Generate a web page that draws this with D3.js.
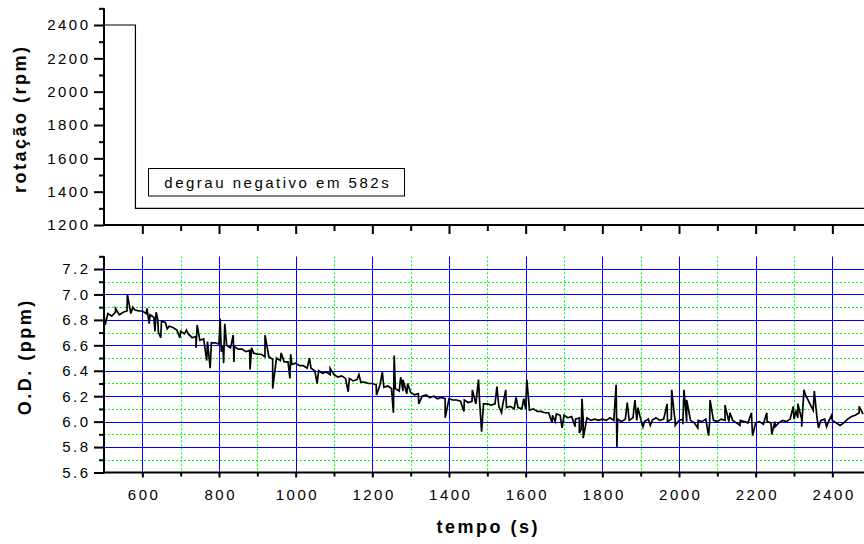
<!DOCTYPE html>
<html>
<head>
<meta charset="utf-8">
<script src="https://cdn.jsdelivr.net/npm/d3@7"></script>
<style>
  body { margin: 0; background: #fff; }
  svg { display: block; }
</style>
</head>
<body>
<svg id="chart" width="864" height="544"></svg>
<script>
// ---- rotation step (rpm) ----
const rotTempo = [500, 582, 582, 2500];
const rotValues = [2400, 2400, 1300, 1300];
const stepLabel = "degrau negativo em 582s";

// ---- dissolved oxygen (ppm), one reading every 10 s starting at 500 s ----
const odStart = 500;
const odStep = 10;
const odBase = [
  6.84, 6.85, 6.83, 6.86, 6.84, 6.86, 6.87, 6.85, 6.88, 6.87,   // 500
  6.87, 6.85, 6.84, 6.82, 6.81, 6.79, 6.78, 6.75, 6.74, 6.72,   // 600
  6.71, 6.69, 6.69, 6.66, 6.67, 6.64, 6.65, 6.63, 6.62, 6.62,   // 700
  6.61, 6.60, 6.60, 6.58, 6.59, 6.57, 6.57, 6.55, 6.56, 6.54,   // 800
  6.53, 6.53, 6.51, 6.51, 6.49, 6.50, 6.48, 6.47, 6.47, 6.45,   // 900
  6.46, 6.44, 6.44, 6.42, 6.42, 6.40, 6.40, 6.38, 6.39, 6.37,   // 1000
  6.37, 6.35, 6.36, 6.34, 6.34, 6.32, 6.33, 6.31, 6.31, 6.30,   // 1100
  6.30, 6.29, 6.29, 6.27, 6.28, 6.26, 6.26, 6.24, 6.24, 6.22,   // 1200
  6.23, 6.21, 6.22, 6.20, 6.21, 6.19, 6.20, 6.18, 6.19, 6.18,   // 1300
  6.18, 6.17, 6.17, 6.16, 6.17, 6.15, 6.16, 6.14, 6.15, 6.14,   // 1400
  6.14, 6.13, 6.14, 6.12, 6.13, 6.11, 6.12, 6.10, 6.11, 6.10,   // 1500
  6.10, 6.09, 6.10, 6.08, 6.08, 6.07, 6.07, 6.05, 6.06, 6.05,   // 1600
  6.05, 6.03, 6.04, 6.02, 6.03, 6.02, 6.03, 6.01, 6.02, 6.01,   // 1700
  6.02, 6.01, 6.03, 6.01, 6.02, 6.00, 6.02, 6.01, 6.03, 6.01,   // 1800
  6.02, 6.00, 6.02, 6.01, 6.03, 6.01, 6.02, 6.00, 6.02, 6.01,   // 1900
  6.01, 6.02, 6.00, 6.01, 5.99, 6.01, 6.00, 6.02, 6.00, 6.01,   // 2000
  6.00, 6.02, 6.01, 6.00, 6.01, 5.99, 6.01, 6.00, 5.99, 6.00,   // 2100
  5.99, 6.00, 5.98, 6.00, 5.99, 6.00, 5.99, 6.01, 6.00, 6.02,   // 2200
  6.02, 6.03, 6.02, 6.21, 6.15, 6.09, 6.03, 6.01, 6.02, 6.00,   // 2300
  6.01, 5.99, 5.97, 5.99, 6.02, 6.04, 6.05, 6.07, 6.06          // 2400
];
// isolated readings that stand out from the trend: [tempo (s), O.D. (ppm)]
const odSpikes = [
  [503, 6.76], [530, 6.89], [561, 7.00], [575, 6.90], [612, 6.89], [618, 6.77],
  [633, 6.71], [636, 6.86], [642, 6.70], [648, 6.66], [665, 6.73], [698, 6.66],
  [715, 6.72], [740, 6.58], [743, 6.76], [768, 6.48], [777, 6.42], [803, 6.81],
  [806, 6.55], [812, 6.46], [815, 6.77], [837, 6.68], [839, 6.47], [881, 6.41],
  [885, 6.58], [920, 6.68], [940, 6.26], [962, 6.54], [985, 6.34], [987, 6.53],
  [1036, 6.50], [1056, 6.30], [1090, 6.42], [1137, 6.235], [1165, 6.37],
  [1211, 6.21], [1226, 6.39], [1255, 6.07], [1257, 6.52], [1274, 6.35],
  [1280, 6.33], [1292, 6.30], [1321, 6.14], [1390, 6.03], [1439, 6.08],
  [1461, 6.25], [1477, 6.33], [1485, 5.92], [1525, 6.275], [1537, 6.07],
  [1548, 6.25], [1575, 6.19], [1595, 6.18], [1603, 6.33], [1669, 5.99],
  [1677, 6.00], [1695, 5.95], [1729, 5.96], [1740, 5.91], [1745, 5.94],
  [1747, 6.18], [1750, 5.87], [1836, 6.29], [1838, 5.80], [1865, 6.15],
  [1885, 6.17], [1893, 6.11], [1906, 5.96], [1925, 5.97], [1969, 6.14],
  [1981, 6.25], [1988, 6.05], [1990, 5.97], [2010, 5.98], [2013, 6.25], [2020, 6.17],
  [2049, 5.95], [2077, 5.89], [2081, 6.17], [2120, 6.13], [2133, 6.07],
  [2159, 5.97], [2189, 6.07], [2192, 5.89], [2229, 6.07], [2242, 5.90],
  [2251, 5.96], [2298, 6.12], [2305, 6.08], [2310, 6.14], [2320, 5.96],
  [2326, 6.25], [2353, 6.24], [2364, 5.95], [2385, 5.96], [2398, 6.05],
  [2470, 6.12]
];

// ---- ticks ----
const tempoMajor = [600, 800, 1000, 1200, 1400, 1600, 1800, 2000, 2200, 2400];
const tempoMinor = [700, 900, 1100, 1300, 1500, 1700, 1900, 2100, 2300, 2500];
const rotMajor = [1200, 1400, 1600, 1800, 2000, 2200, 2400];
const rotMinor = [1300, 1500, 1700, 1900, 2100, 2300, 2500];
const odMajor = [5.6, 5.8, 6.0, 6.2, 6.4, 6.6, 6.8, 7.0, 7.2];
const odMinor = [5.7, 5.9, 6.1, 6.3, 6.5, 6.7, 6.9, 7.1, 7.3];

const FONT = "'Liberation Sans', Arial, Helvetica, sans-serif";
const LS = 2.5; // letter spacing used by all text

const svg = d3.select("#chart");

const x = d3.scaleLinear().domain([500, 2500]).range([104, 870.67]);
const yRot = d3.scaleLinear().domain([1200, 2500]).range([225, 8.33]);
const yOD = d3.scaleLinear().domain([5.6, 7.3]).range([472.5, 256.3]);
// centre a 1px line on a pixel
const snap = v => Math.round(v) + 0.5;

const defs = svg.append("defs");
defs.append("clipPath").attr("id", "clipTop")
  .append("rect").attr("x", x(500)).attr("y", 0)
  .attr("width", x(2500) - x(500)).attr("height", yRot(1200));
defs.append("clipPath").attr("id", "clipOD")
  .append("rect").attr("x", x(500)).attr("y", yOD(7.3))
  .attr("width", x(2500) - x(500)).attr("height", yOD(5.6) - yOD(7.3));

// ---- grid of the O.D. panel ----
const grid = svg.append("g").attr("clip-path", "url(#clipOD)");
grid.append("g").selectAll("line").data(tempoMinor).join("line")
  .attr("x1", d => snap(x(d))).attr("x2", d => snap(x(d)))
  .attr("y1", yOD(7.3)).attr("y2", yOD(5.6))
  .attr("stroke", "#00ff00").attr("stroke-width", 1).attr("stroke-dasharray", "2,2");
grid.append("g").selectAll("line").data(odMinor.filter(d => d < 7.3)).join("line")
  .attr("x1", x(500)).attr("x2", x(2500))
  .attr("y1", d => snap(yOD(d))).attr("y2", d => snap(yOD(d)))
  .attr("stroke", "#00ff00").attr("stroke-width", 1).attr("stroke-dasharray", "2,2");
grid.append("g").selectAll("line").data(odMajor.filter(d => d > 5.6)).join("line")
  .attr("x1", x(500)).attr("x2", x(2500))
  .attr("y1", d => snap(yOD(d))).attr("y2", d => snap(yOD(d)))
  .attr("stroke", "#0000ff").attr("stroke-width", 1);
grid.append("g").selectAll("line").data(tempoMajor).join("line")
  .attr("x1", d => snap(x(d))).attr("x2", d => snap(x(d)))
  .attr("y1", yOD(7.3)).attr("y2", yOD(5.6))
  .attr("stroke", "#0000ff").attr("stroke-width", 1);

// ---- O.D. trace ----
const odSeries = odBase.map((v, i) => [odStart + i * odStep, v])
  .concat(odSpikes)
  .sort((a, b) => a[0] - b[0]);
svg.append("path")
  .datum(odSeries)
  .attr("clip-path", "url(#clipOD)")
  .attr("fill", "none").attr("stroke", "#000").attr("stroke-width", 1.7)
  .attr("stroke-linejoin", "miter")
  .attr("d", d3.line().x(d => x(d[0])).y(d => yOD(d[1])));

// ---- rotation step ----
svg.append("path")
  .datum(d3.zip(rotTempo, rotValues))
  .attr("clip-path", "url(#clipTop)")
  .attr("fill", "none").attr("stroke", "#000").attr("stroke-width", 1.2)
  .attr("d", d3.line().x(d => x(d[0])).y(d => yRot(d[1])));

// label box
const boxG = svg.append("g");
boxG.append("rect")
  .attr("x", 148.5).attr("y", 168.5).attr("width", 256).attr("height", 27.5)
  .attr("fill", "#fff").attr("stroke", "#000").attr("stroke-width", 1);
boxG.append("text")
  .attr("x", 276.5 + LS / 2).attr("y", 188)
  .attr("text-anchor", "middle")
  .style("font-family", FONT).style("font-size", "15px").style("letter-spacing", LS + "px")
  .text(stepLabel);

// ---- axes ----
function styleAxis(g, lw) {
  g.select(".domain").remove();
  g.selectAll(".tick line").attr("stroke", "#000").attr("stroke-width", lw);
  g.selectAll(".tick text")
    .attr("fill", "#000")
    .style("font-family", FONT).style("font-size", "15px").style("letter-spacing", LS + "px");
}
function axisLine(x1, y1, x2, y2) {
  svg.append("line").attr("x1", x1).attr("y1", y1).attr("x2", x2).attr("y2", y2)
    .attr("stroke", "#000").attr("stroke-width", 2);
}

// rotation y axis
svg.append("g").attr("transform", `translate(${x(500)},0)`)
  .call(d3.axisLeft(yRot).tickValues(rotMinor).tickSize(5).tickFormat(""))
  .call(g => styleAxis(g, 2));
svg.append("g").attr("transform", `translate(${x(500)},0)`)
  .call(d3.axisLeft(yRot).tickValues(rotMajor).tickSize(10).tickPadding(3.5).tickFormat(d3.format("d")))
  .call(g => styleAxis(g, 2));
// rotation x axis (ticks only)
svg.append("g").attr("transform", `translate(0,${yRot(1200)})`)
  .call(d3.axisBottom(x).tickValues(tempoMinor).tickSize(6).tickFormat(""))
  .call(g => styleAxis(g, 2));
svg.append("g").attr("transform", `translate(0,${yRot(1200)})`)
  .call(d3.axisBottom(x).tickValues(tempoMajor).tickSize(9).tickFormat(""))
  .call(g => styleAxis(g, 2));
axisLine(x(500), yRot(2500), x(500), yRot(1200) + 1);
axisLine(x(500) - 1, yRot(1200), x(2500), yRot(1200));

// O.D. y axis
svg.append("g").attr("transform", `translate(${x(500)},0)`)
  .call(d3.axisLeft(yOD).tickValues(odMinor).tickSize(5).tickFormat(""))
  .call(g => styleAxis(g, 2));
svg.append("g").attr("transform", `translate(${x(500)},0)`)
  .call(d3.axisLeft(yOD).tickValues(odMajor).tickSize(10).tickPadding(3.5).tickFormat(d3.format(".1f")))
  .call(g => styleAxis(g, 2));
// O.D. x axis
svg.append("g").attr("transform", `translate(0,${yOD(5.6)})`)
  .call(d3.axisBottom(x).tickValues(tempoMinor).tickSize(4).tickFormat(""))
  .call(g => styleAxis(g, 2));
svg.append("g").attr("transform", `translate(0,${yOD(5.6)})`)
  .call(d3.axisBottom(x).tickValues(tempoMajor).tickSize(5).tickFormat(d3.format("d")))
  .call(g => styleAxis(g, 2))
  .call(g => g.selectAll(".tick text").attr("y", 17).attr("dy", "0.71em").attr("dx", LS / 2));
axisLine(x(500), yOD(7.3), x(500), yOD(5.6) + 1);
axisLine(x(500) - 1, yOD(5.6), x(2500), yOD(5.6));

// ---- titles ----
function title(txt, tx, ty, rot) {
  svg.append("text")
    .attr("transform", `translate(${tx},${ty}) rotate(${rot})`)
    .attr("text-anchor", "middle").attr("dx", LS / 2)
    .style("font-family", FONT).style("font-size", "18px").style("font-weight", "bold")
    .style("letter-spacing", LS + "px")
    .text(txt);
}
title("rotação (rpm)", 26, 120, -90);
title("O.D. (ppm)", 31, 358, -90);
title("tempo (s)", 487, 533, 0);
</script>
</body>
</html>
